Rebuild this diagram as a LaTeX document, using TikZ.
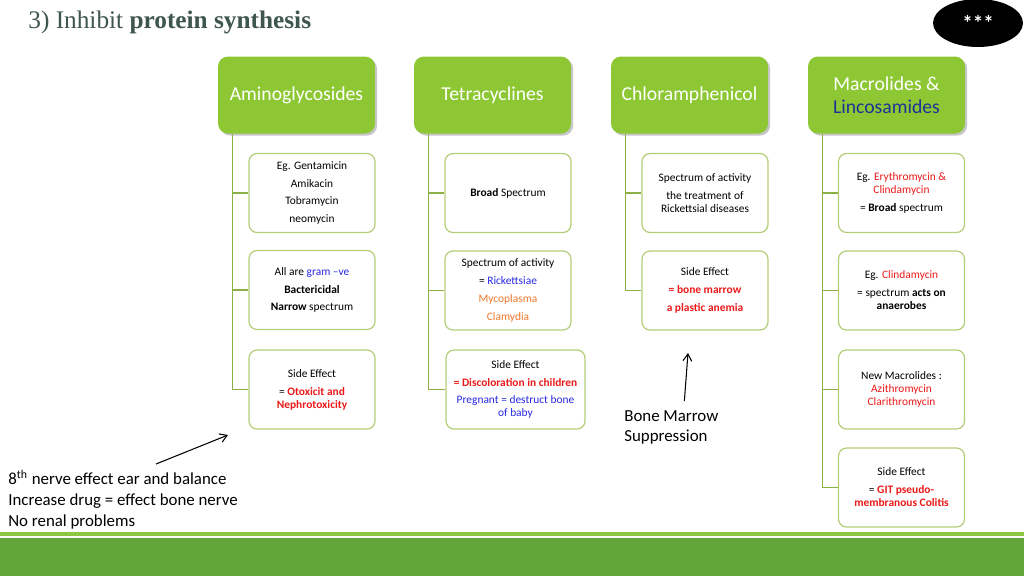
\documentclass[tikz,border=0pt]{standalone}
\usepackage{fontspec}
\setmainfont{Carlito}
\newfontfamily\titlefont{Liberation Serif}
\usetikzlibrary{positioning, arrows.meta, shadows, shapes.geometric}

\definecolor{headgreen}{RGB}{141,200,52}
\definecolor{boxline}{RGB}{180,206,120}
\definecolor{treeline}{RGB}{140,175,70}
\definecolor{titlegray}{RGB}{62,86,76}
\definecolor{txtblue}{RGB}{40,40,230}
\definecolor{navy}{RGB}{30,50,150}
\definecolor{txtred}{RGB}{235,25,25}
\definecolor{txtorange}{RGB}{240,120,40}
\definecolor{bandlight}{RGB}{140,197,64}
\definecolor{banddark}{RGB}{98,165,56}

\begin{document}
\begin{tikzpicture}[
  x=0.02cm, y=-0.02cm,
  head/.style    = {rectangle, rounded corners=2mm, fill=headgreen, text=white, minimum width=3.14cm, minimum height=1.54cm, align=center, font=\fontsize{11.2}{13}\selectfont, drop shadow={shadow xshift=1.2pt, shadow yshift=-1.2pt, opacity=0.45}},
  leaf/.style    = {rectangle, rounded corners=1.6mm, draw=boxline, line width=0.7pt, fill=white, minimum width=2.52cm, minimum height=1.58cm, align=center, font=\fontsize{6.5}{7.4}\selectfont},
  tree/.style    = {draw=treeline, line width=0.7pt},
  pointer/.style = {line width=0.6pt, -{Straight Barb[length=4pt, width=5pt]}},
  note/.style    = {inner sep=0pt, anchor=north west, align=left, font=\fontsize{9.6}{11.8}\selectfont},
  ]
  \useasboundingbox (0,0) rectangle (1024,576);

  % Title and badge
  \node (title) at (28,28) [anchor=base west, inner sep=0pt, text=titlegray, font=\titlefont\fontsize{14.4}{17}\selectfont] {3) Inhibit \textbf{protein synthesis}};
  \node (stars) at (978,23) [ellipse, fill=black, minimum width=1.8cm, minimum height=0.96cm, inner sep=0pt, text=white, font=\bfseries\fontsize{12}{12}\selectfont] {***};

  % Drug groups
  \node (amino)  at (296.5,95) [head] {Aminoglycosides};
  \node (tetra)  at (492.5,95) [head] {Tetracyclines};
  \node (chlor)  at (689.5,95) [head] {Chloramphenicol};
  \node (macro)  at (886.5,95) [head] {Macrolides \&\\ \textcolor{navy}{Lincosamides}};

  % Aminoglycosides
  \node (a1) at (312,193)   [leaf] {Eg. Gentamicin\\[2.8pt] Amikacin\\[2.8pt] Tobramycin\\[2.8pt] neomycin};
  \node (a2) at (312,290)   [leaf] {All are \textcolor{txtblue}{gram --ve}\\[2.8pt] \textbf{Bactericidal}\\[2.8pt] \textbf{Narrow} spectrum};
  \node (a3) at (312,389.5) [leaf] {Side Effect\\[2.8pt] = \textcolor{txtred}{\textbf{Otoxicit and}}\\ \textcolor{txtred}{\textbf{Nephrotoxicity}}};

  % Tetracyclines
  \node (t1) at (508,193)     [leaf] {\textbf{Broad} Spectrum};
  \node (t2) at (508,290.5)   [leaf] {Spectrum of activity\\[2.8pt] = \textcolor{txtblue}{Rickettsiae}\\[2.8pt] \textcolor{txtorange}{Mycoplasma}\\[2.8pt] \textcolor{txtorange}{Clamydia}};
  \node (t3) at (515.5,389.5) [leaf, minimum width=2.78cm] {Side Effect\\[2.8pt] \textcolor{txtred}{\textbf{= Discoloration in children}}\\[2.8pt] \textcolor{txtblue}{Pregnant = destruct bone}\\ \textcolor{txtblue}{of baby}};

  % Chloramphenicol
  \node (c1) at (705,193)   [leaf] {Spectrum of activity\\[2.8pt] the treatment of\\ Rickettsial diseases};
  \node (c2) at (705,290.5) [leaf] {Side Effect\\[2.8pt] \textcolor{txtred}{\textbf{= bone marrow}}\\[2.8pt] \textcolor{txtred}{\textbf{a plastic anemia}}};

  % Macrolides & Lincosamides
  \node (m1) at (901.5,193)   [leaf] {Eg. \textcolor{txtred}{Erythromycin \&}\\ \textcolor{txtred}{Clindamycin}\\[2.8pt] = \textbf{Broad} spectrum};
  \node (m2) at (901.5,290.5) [leaf] {Eg. \textcolor{txtred}{Clindamycin}\\[2.8pt] = spectrum \textbf{acts on}\\ \textbf{anaerobes}};
  \node (m3) at (901.5,389.5) [leaf] {New Macrolides :\\ \textcolor{txtred}{Azithromycin}\\ \textcolor{txtred}{Clarithromycin}};
  \node (m4) at (901.5,487.5) [leaf] {Side Effect\\[2.8pt] = \textcolor{txtred}{\textbf{GIT pseudo-}}\\ \textcolor{txtred}{\textbf{membranous Colitis}}};

  % Tree connectors
  \draw[tree] ([xshift=0.3cm]amino.south west) |- (a3.west)
              ([xshift=0.3cm]amino.south west) |- (a2.west)
              ([xshift=0.3cm]amino.south west) |- (a1.west);
  \draw[tree] ([xshift=0.3cm]tetra.south west) |- (t3.west)
              ([xshift=0.3cm]tetra.south west) |- (t2.west)
              ([xshift=0.3cm]tetra.south west) |- (t1.west);
  \draw[tree] ([xshift=0.3cm]chlor.south west) |- (c2.west)
              ([xshift=0.3cm]chlor.south west) |- (c1.west);
  \draw[tree] ([xshift=0.3cm]macro.south west) |- (m4.west)
              ([xshift=0.3cm]macro.south west) |- (m3.west)
              ([xshift=0.3cm]macro.south west) |- (m2.west)
              ([xshift=0.3cm]macro.south west) |- (m1.west);

  % Side notes
  \node (nerve)  at (8,470)   [note] {8\textsuperscript{th} nerve effect ear and balance\\ Increase drug = effect bone nerve\\ No renal problems};
  \node (marrow) at (624,410) [note] {Bone Marrow\\ Suppression};
  \coordinate (ototip)    at (228,435);
  \coordinate (marrowtip) at (688,353);
  \draw[pointer] ([xshift=0.66cm, yshift=0.12cm]nerve.north) -- (ototip);
  \draw[pointer] ([xshift=0.26cm, yshift=0.18cm]marrow.north) -- (marrowtip);

  % Footer band
  \fill[bandlight] (0,532) rectangle (1024,536);
  \fill[banddark]  (0,537.5) rectangle (1024,576);
\end{tikzpicture}
\end{document}
